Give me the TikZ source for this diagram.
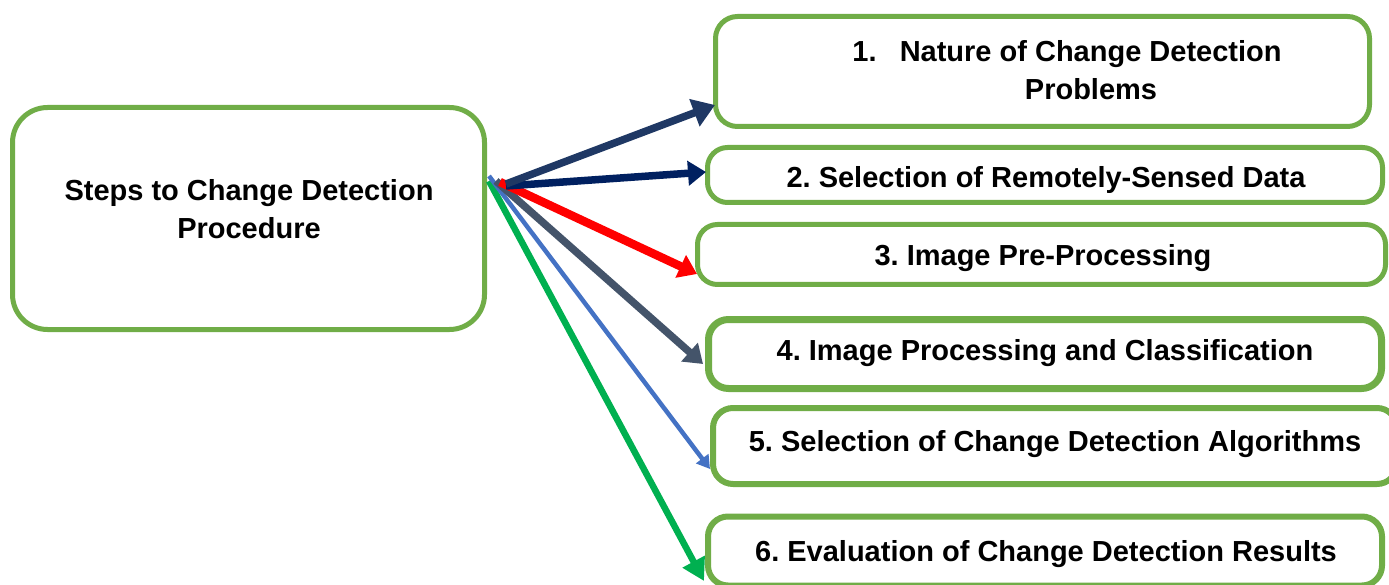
\documentclass[tikz,border=0pt]{standalone}
\usepackage{fontspec}
\setmainfont{Liberation Sans}
\usetikzlibrary{arrows.meta}
\frenchspacing
\definecolor{boxgreen}{HTML}{70AD47}
\definecolor{aone}{HTML}{1F3864}
\definecolor{atwo}{HTML}{002060}
\definecolor{athree}{HTML}{FF0000}
\definecolor{afour}{HTML}{44546A}
\definecolor{afive}{HTML}{4472C4}
\definecolor{asix}{HTML}{00B050}
\tikzset{
  x=1pt, y=-1pt,
  stepbox/.style={draw=boxgreen, line width=5pt, rounded corners=20pt, fill=white, inner sep=0pt},
  lbl/.style={font=\fontsize{29}{38}\selectfont\bfseries, align=center, inner sep=0pt},
  conn/.style={-{Triangle[length=18pt,width=24pt]}},
}
\begin{document}
\begin{tikzpicture}
\useasboundingbox (0,0) rectangle (1389,585);
\clip (0,0) rectangle (1389,585);
% boxes
\node[stepbox, rounded corners=35pt, minimum width=472pt, minimum height=222pt] (main) at (248.5,218.5) {};
\node[lbl] (maintext) at (249,209.5) {Steps to Change Detection\\Procedure};

\node[stepbox, rounded corners=22pt, minimum width=654pt, minimum height=110pt] (b1) at (1042.5,71.5) {};
\node[lbl] (t1) at (1067,70) {1.\hspace{0.8em}Nature of Change Detection\\\hspace{48pt}Problems};

\node[stepbox, minimum width=675pt, minimum height=55pt] (b2) at (1045,175) {};
\node[lbl] (t2) at (1046,180) {2. Selection of Remotely-Sensed Data};

\node[stepbox, minimum width=688pt, minimum height=60pt] (b3) at (1041.5,254.5) {};
\node[lbl] (t3) at (1043,258) {3. Image Pre-Processing};

\node[stepbox, line width=7pt, minimum width=673pt, minimum height=69pt] (b4) at (1045,354) {};
\node[lbl] (t4) at (1045,353) {4. Image Processing and Classification};

\node[stepbox, line width=6pt, minimum width=684pt, minimum height=76pt] (b5) at (1055,446) {};
\node[lbl] (t5) at (1055,444) {5. Selection of Change Detection Algorithms};

\node[stepbox, line width=6pt, minimum width=674pt, minimum height=69pt] (b6) at (1045,551) {};
\node[lbl] (t6) at (1046,554) {6. Evaluation of Change Detection Results};

% connector end points
\coordinate (s1) at (506,184);
\coordinate (s2) at (506,186);
\coordinate (s3) at (500,182);
\coordinate (s4) at (496,181);
\coordinate (s5) at (489,176);
\coordinate (s6) at (489,181);
\coordinate (e1) at (715,105);
\coordinate (e2) at (706,172);
\coordinate (e3) at (697,274);
\coordinate (e4) at (703,364);
\coordinate (e5) at (710,469);
\coordinate (e6) at (704,581);

% connectors
\draw[conn, draw=asix, fill=asix, line width=6.5pt, -{Triangle[length=22pt,width=24pt]}] (s6) -- (e6);
\draw[conn, draw=afive, fill=afive, line width=4.5pt, -{Triangle[length=13pt,width=15pt]}] (s5) -- (e5);
\draw[conn, draw=afour, fill=afour, line width=7.5pt] (s4) -- (e4);
\draw[conn, draw=athree, fill=athree, line width=8.5pt] (s3) -- (e3);
\draw[conn, draw=atwo, fill=atwo, line width=7.5pt] (s2) -- (e2);
\draw[conn, draw=aone, fill=aone, line width=7.5pt, -{Triangle[length=22pt,width=28pt]}] (s1) -- (e1);
\end{tikzpicture}
\end{document}
